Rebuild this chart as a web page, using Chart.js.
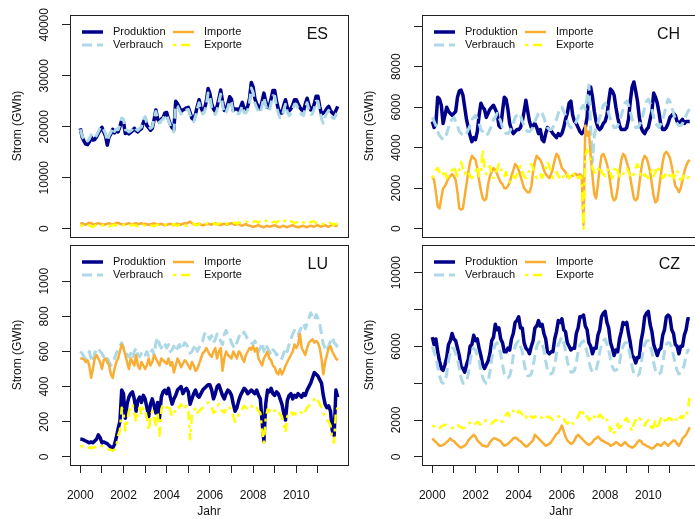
<!DOCTYPE html>
<html>
<head>
<meta charset="utf-8">
<script src="https://cdn.jsdelivr.net/npm/chart.js@4.4.1/dist/chart.umd.min.js"></script>
<style>
  body { margin: 0; background: #fff; }
  #wrap { position: relative; width: 695px; height: 519px; overflow: hidden; }
  #wrap canvas { position: absolute; }
</style>
</head>
<body>
<div id="wrap">
  <canvas id="es" width="350" height="240" style="left:0;top:0"></canvas>
  <canvas id="ch" width="350" height="240" style="left:352px;top:0"></canvas>
  <canvas id="lu" width="350" height="279" style="left:0;top:240px"></canvas>
  <canvas id="cz" width="350" height="279" style="left:352px;top:240px"></canvas>
</div>
<script>
// monthly values 2000-01 .. 2011-12, GWh
var years = [2000, 2001, 2002, 2003, 2004, 2005, 2006, 2007, 2008, 2009, 2010, 2011];
var months = [];
years.forEach(function (y) { for (var m = 0; m < 12; m++) months.push(y + m / 12); });
var yearTicks = years;

// Spanien
var esProd = [
  19700,18000,17200,16600,16500,17000,18000,17400,17500,18000,18700,19300, 19900,19000,18200,16400,18000,18600,19500,18800,19300,19000,20000,21300,
  21000,18700,18900,18600,18900,19200,19700,19200,19000,19400,19600,20800, 21700,20200,19800,19300,19700,21400,23300,21500,20900,21500,21800,22700,
  22800,21500,20500,19800,19500,25000,24500,23800,23000,23300,23500,23700, 23800,22800,21700,21400,22500,24000,25300,23800,23000,23500,25000,27500,
  26500,24500,23500,23000,24000,25500,27200,25000,23200,23500,24500,25900, 25400,23200,23500,23500,23200,23800,24800,23500,23400,24000,25500,28700,
  27800,25500,24500,23800,23500,25000,26600,25000,23800,24000,25500,27100, 27100,25000,23500,22700,22700,24200,25300,23800,23100,23500,24300,25300,
  25300,24500,23800,23300,23100,24500,25600,24300,23300,23400,24500,26000, 26000,24000,22500,22700,23000,23600,24000,23200,22700,22400,23200,24000
];
var esVerb = [
  19500,18200,17500,17000,17200,17600,18400,17800,17800,18300,19000,19800, 20000,19400,18700,17200,18300,18900,19800,19100,19500,19400,20400,21700,
  21500,19400,19300,19000,19200,19500,20000,19500,19300,19700,20000,21200, 22000,20600,20200,19700,20000,21500,23000,21300,20800,21200,21500,22300,
  22300,21200,20300,19500,19000,24200,24000,23200,22500,22700,23000,23300, 23400,22300,21300,21000,22000,23500,24700,23300,22500,22900,24300,26600,
  25700,23800,22900,22400,23300,24800,26400,24400,22600,22800,23800,25100, 24700,22600,22800,22700,22500,23100,24100,22800,22700,23300,24700,27600,
  26700,24600,23700,23000,22700,24200,25700,24200,23000,23200,24600,26100, 26000,24000,22600,21800,21800,23300,24400,22900,22200,22600,23400,24400,
  24400,23600,22900,22400,22200,23600,24700,23400,22400,22500,23600,25000, 25000,23100,21600,20700,22000,22700,23200,22300,21800,21600,22300,23200
];
var esImp = [
  1000,1100,900,800,1000,1200,1100,900,800,1000,1100,1000, 900,800,900,1000,1100,900,800,1000,1100,1200,1000,900,
  800,900,1000,1100,900,800,1000,1100,900,1000,1100,900, 1000,900,800,900,1000,1100,900,800,900,1000,800,700,
  800,900,1000,800,700,900,1000,900,800,1000,1100,1000, 1200,1400,1100,900,800,900,1000,800,700,800,900,1000,
  900,800,1000,1100,900,800,700,900,1000,800,900,1000, 1100,900,800,900,1000,700,600,800,900,700,600,500,
  400,500,600,700,500,400,300,500,600,400,500,600, 700,500,400,300,500,600,400,300,500,600,700,500,
  400,300,400,500,600,400,300,500,600,500,400,600, 700,500,400,600,700,500,400,600,800,700,600,700
];
var esExp = [
  700,600,500,600,700,600,500,400,600,700,600,500, 600,700,800,600,500,600,700,800,700,600,500,600,
  700,800,600,500,700,800,700,600,500,600,700,800, 600,700,800,700,600,500,700,800,700,600,700,800,
  700,600,700,800,900,700,600,800,900,800,700,600, 700,800,900,1000,800,700,900,1000,900,800,1000,1100,
  900,1000,1100,900,800,1000,1100,1200,1000,900,1100,1000, 900,1100,1200,1000,1300,1100,1000,1200,1400,1300,1100,1200,
  1300,1500,1400,1200,1600,1400,1300,1500,1700,1400,1200,1300, 1400,1200,1500,1300,1100,1400,1600,1300,1200,1500,1300,1100,
  1200,1500,1600,1300,1200,1400,1200,1100,1300,1500,1400,1100, 1000,1200,1100,900,1000,1200,1300,1100,900,800,1000,900
];

// Schweiz
var chProd = [
  5300,5000,5200,6500,6400,6100,5200,5600,6000,5800,5700,5600, 5700,5800,6500,6800,6850,6600,6000,5400,5000,4600,4300,4500,
  4400,4800,5600,6200,6000,5900,5500,5700,5900,6000,6100,5900, 5700,5100,5000,5800,6500,6400,5900,5200,4900,4700,4800,4900,
  4900,5000,5300,5800,6350,5800,5300,5000,5100,5200,5000,4700, 4900,4400,4300,4700,5000,4900,4850,4700,4600,4500,4700,4600,
  4700,5000,5400,5700,6200,6300,5600,5300,5200,5000,4800,4700, 4800,5000,5500,6900,7000,6500,5800,5300,5000,4900,5000,5200,
  5300,5600,6300,6900,6800,6600,6000,5500,5100,4900,4900,4900, 5000,5400,6300,7000,7250,6800,6300,5500,5000,4800,4700,4900,
  5000,5400,5800,6700,6500,6200,5700,5100,4900,4900,5000,5200, 5500,5600,5700,5600,5300,5200,5300,5400,5200,5300,5300,5300
];
var chVerb = [
  5500,5300,5100,4800,4600,4500,4400,4500,4700,5000,5300,5400, 5500,5300,5100,4800,4700,4600,4600,4700,4900,5100,5400,5500,
  5600,5400,5200,4900,4800,4700,4600,4700,4900,5100,5400,5500, 5700,5500,5300,5000,4800,4700,4700,4800,5000,5200,5500,5600,
  5700,5600,5300,5100,4900,4800,4800,4900,5000,5300,5500,5700, 5800,5700,5500,5200,5000,4900,4900,5000,5200,5400,5700,6000,
  6000,5800,5600,5300,5100,5000,5000,5100,5300,5500,5800,6000, 6100,5900,6500,7100,5000,3300,4600,5000,5200,5500,5800,6100,
  6200,6000,5700,5400,5200,5000,5000,5100,5300,5600,5900,6200, 6300,6100,5800,5400,5200,5000,5000,5100,5300,5600,6000,6300,
  6400,6200,5900,5500,5200,5100,5000,5200,5400,5700,6100,6400, 6300,6000,5700,5400,5200,5100,5100,5200,5400,5600,5800,5900
];
var chImp = [
  2600,2400,1800,1100,1000,1500,2000,2100,2300,2500,2600,2700, 2600,2400,1800,1000,950,1000,1600,2200,2800,3300,3600,3500,
  3400,3000,2400,1900,1500,1400,1500,2200,2600,2800,3000,2900, 2700,2500,2300,2200,2000,2000,2100,2300,2600,2900,3200,3100,
  2900,2600,2300,2000,1900,1800,1800,2100,2800,3300,3600,3500, 3400,3200,2900,2700,2600,2500,2700,3000,3400,3700,3600,3300,
  3000,2900,2800,2600,2500,2600,2600,2700,2700,2600,2700,2600, 200,5100,4600,4800,3600,2600,1700,1500,2200,3000,3600,3700,
  3500,3200,2800,2200,1600,1400,1500,2000,2800,3400,3700,3600, 3300,3000,2500,2000,1500,1400,1500,2200,2900,3400,3600,3500,
  3200,2800,2200,1600,1300,1400,2000,2700,3300,3700,3800,3700, 3500,3100,2600,2100,2000,1800,2000,2400,2800,3100,3300,3400
];
var chExp = [
  2500,2700,2900,3000,2800,2600,2700,2900,2500,2600,2800,2900, 3100,2800,2600,2900,3300,3000,2700,2900,2800,2600,2500,2700,
  2800,3100,2600,2800,3900,3000,2700,2900,3100,2600,2500,2800, 2900,3200,3000,2700,2600,2800,2500,2300,2400,2600,2500,2700,
  2900,3100,2800,2600,2500,2700,2900,3200,3000,2700,2500,2600, 2700,2500,2800,3000,3300,3100,2800,2500,2600,2800,2600,2500,
  2400,2600,2800,2700,2500,2600,2800,2600,2700,2500,2600,2500, 0,3600,3900,3600,3400,3000,2800,2700,2900,3100,2800,2700,
  2600,2800,3000,2700,2500,2900,3100,2800,2600,2500,2700,2900, 3000,2800,2600,2500,2700,3000,3200,2800,2600,2500,2700,2600,
  2500,2700,2900,2600,2800,3100,2900,2700,2500,2600,2800,2700, 2600,2800,2500,2700,2900,2600,2400,2500,2700,2600,2500,2700
];

// Luxemburg
var luProd = [
  100,100,95,90,85,80,85,80,90,100,125,110, 80,85,80,75,65,55,50,70,110,160,200,380,
  360,220,300,340,360,370,330,260,320,340,310,350, 330,280,230,300,330,290,250,310,220,340,370,380,
  360,390,340,300,330,350,380,390,400,360,380,390, 370,300,330,360,380,350,340,360,380,390,400,410,
  410,380,330,360,400,410,380,350,330,360,380,370, 350,300,260,280,320,350,370,390,380,360,370,380,
  370,360,380,350,330,200,90,300,380,370,390,360, 350,370,360,330,300,250,210,320,350,360,330,350,
  340,360,350,340,360,350,380,400,420,450,480,470, 460,440,420,350,300,280,290,260,150,120,380,340
];
var luVerb = [
  600,590,570,560,580,600,560,540,590,610,620,600, 590,570,550,560,540,520,530,560,590,610,630,650,
  620,600,580,570,590,560,600,620,580,570,590,600, 580,600,570,590,610,580,650,680,640,620,650,640,
  620,640,600,610,630,600,620,640,610,630,650,640, 620,590,600,620,640,600,620,650,660,700,710,690,
  670,690,650,670,700,680,660,640,700,720,690,680, 650,630,620,650,680,700,690,710,690,670,660,650,
  640,660,630,600,620,650,600,640,620,600,580,610, 600,580,590,570,560,590,620,600,640,670,700,720,
  700,690,720,740,760,730,760,790,820,800,780,810, 790,760,700,640,620,600,630,660,680,650,640,620
];
var luImp = [
  560,560,555,540,550,520,450,500,560,580,560,540, 500,550,560,540,520,470,450,500,540,560,600,640,
  620,580,540,500,560,540,520,580,520,500,540,520, 500,520,560,520,540,580,560,540,520,560,550,540,
  530,560,520,540,480,520,560,540,510,530,550,540, 520,500,540,520,490,500,530,560,590,600,620,600,
  580,570,600,620,560,600,620,490,560,600,580,570, 560,600,580,560,600,590,560,540,580,600,620,610,
  630,600,620,560,540,520,560,580,600,560,550,520, 510,480,470,500,470,490,520,540,560,580,600,640,
  620,640,700,620,600,580,620,650,660,670,650,660, 650,620,560,470,540,580,620,630,600,580,560,550
];
var luExp = [
  60,60,55,50,50,50,55,50,55,60,70,65, 60,55,50,45,40,40,35,40,60,120,150,280,
  250,150,200,260,280,300,250,200,260,280,240,280, 270,220,150,230,260,220,180,250,120,270,300,290,
  280,300,260,230,250,270,290,280,300,270,280,290, 260,100,240,260,280,250,260,270,280,290,300,310,
  300,280,250,260,290,300,280,260,250,270,290,280, 260,230,200,220,240,260,270,290,280,270,280,290,
  280,270,280,260,250,150,80,220,270,260,280,270, 260,270,260,240,230,180,140,230,250,260,240,250,
  240,250,260,250,270,260,280,290,300,310,330,340, 320,300,280,250,230,210,200,180,100,80,260,280
];

// Tschechien
var czProd = [
  6500,6100,6400,5700,5200,4800,4700,5000,5400,6100,6300,6700, 6400,6300,5900,5500,4900,4800,4600,5000,5300,6000,6100,6600,
  6300,6400,5900,5500,5000,4800,5000,5200,5600,6300,6500,7200, 6900,7000,6400,6200,5700,5700,5900,5800,6400,6700,7300,7400,
  7600,7000,7000,6200,5900,5800,5600,6000,6300,7000,7100,7400, 7100,7200,6700,6400,5700,5600,5700,5700,6400,6800,7400,7300,
  7500,6900,6800,6200,6000,5800,5900,5900,6700,7000,7600,7600, 7700,7100,6900,6200,6000,5600,5900,5900,6600,6900,7600,7800,
  7900,7300,7000,6200,5900,5500,5800,5700,6400,6800,7300,7200, 7300,6700,6200,5500,5400,5100,5400,5400,6300,6800,7600,7800,
  7900,7200,6800,6100,5800,5500,5800,5900,6600,6900,7600,7700, 7600,6900,6700,6100,6000,5600,6000,6000,6600,6900,7500,7500
];
var czVerb = [
  6000,5700,5400,4900,4400,4100,4000,4100,4500,5200,5700,5900, 5900,5600,5300,4800,4300,4000,4000,4100,4500,5200,5700,5900,
  5800,5500,5200,4700,4300,4100,4000,4100,4600,5300,5800,6100, 6200,5900,5600,5000,4500,4300,4300,4400,4800,5500,6000,6200,
  6300,6000,5700,5100,4600,4400,4400,4500,4900,5500,6000,6200, 6300,6100,5800,5200,4700,4500,4500,4600,5000,5600,6100,6300,
  6500,6200,5800,5200,4800,4600,4600,4700,5100,5700,6100,6200, 6300,6000,5700,5200,4800,4600,4600,4700,5100,5700,6100,6300,
  6400,6100,5800,5300,4900,4700,4700,4800,5100,5700,6000,6200, 6200,5900,5500,4900,4500,4400,4400,4500,5000,5700,6100,6300,
  6300,6100,5700,5100,4700,4500,4500,4600,5100,5700,6100,6200, 6200,5900,5500,5000,4700,4500,4600,4700,5000,5500,5800,5800
];
var czImp = [
  1000,900,800,700,600,600,650,700,800,900,1000,900, 850,750,650,550,500,550,600,700,900,1000,1100,1200,
  1100,900,800,700,600,600,550,600,800,900,1000,1000, 950,900,850,700,600,650,700,800,900,1000,1050,1000,
  900,850,750,650,550,600,700,800,900,1200,1100,1000, 900,800,700,600,650,700,800,950,1100,1250,1300,1500,
  1700,1400,1100,900,800,700,750,900,1100,1200,1100,1000, 900,800,700,650,700,800,950,1000,1100,1000,900,850,
  800,750,700,600,650,700,800,750,650,600,700,800, 700,600,550,500,550,650,800,900,850,700,650,600,
  550,500,450,500,600,700,650,600,700,800,700,600, 700,800,900,850,700,600,750,1000,1100,1200,1400,1600
];
var czExp = [
  1700,1650,1600,1500,1550,1650,1700,1750,1700,1650,1600,1550, 1600,1700,1750,1650,1600,1550,1600,1750,1800,1850,1750,1700,
  1800,1900,1850,1700,1800,1900,2000,1950,1850,1800,1900,2000, 2000,2100,2000,1900,2100,2300,2400,2200,2300,2500,2400,2300,
  2500,2400,2300,2100,2200,2000,2100,2200,2100,2200,2150,2100, 2200,2100,2000,2100,2200,2150,2100,2000,2050,2100,2200,2150,
  2200,2100,1900,1800,1900,2000,1800,1900,2000,2200,2400,2600, 2300,2100,2200,2000,2100,2300,2200,2000,2100,2300,2200,2100,
  2200,2000,1800,1400,1600,1300,1500,1800,1400,1700,1900,2000, 2100,1900,1600,1400,1800,2000,1900,2100,2000,1800,1700,1900,
  2000,1800,1400,1700,2000,1500,1800,2100,1900,2000,1800,2100, 2100,2000,2200,2100,1900,2000,2200,2100,2300,2200,2600,3300
];

var NAMES = ['Produktion', 'Verbrauch', 'Importe', 'Exporte'];
var COLORS = ['#00008B', '#ADD8E6', '#F9AD33', '#FFFF00'];
var WIDTHS = [3.5, 3, 2.5, 2.5];
var DASHES = [[], [10, 5], [], [3, 5, 9, 5]];
var FONT = '"Liberation Sans", Arial, Helvetica, sans-serif';

Chart.defaults.font.family = FONT;
Chart.defaults.color = '#111';

// R-style axis range: 4% on each side
var xSpan = months[months.length - 1] - months[0];
var X_MIN = months[0] - 0.04 * xSpan;
var X_MAX = months[months.length - 1] + 0.04 * xSpan;

var panelPlugin = {
  id: 'panel',
  afterDraw: function (chart, args, opts) {
    var ctx = chart.ctx, a = chart.chartArea, y = chart.scales.y;
    ctx.save();
    // box
    ctx.strokeStyle = '#222';
    ctx.lineWidth = 1;
    ctx.strokeRect(Math.round(a.left) + 0.5, Math.round(a.top) + 0.5, a.right - a.left, a.bottom - a.top);
    // y tick labels, vertical like R
    ctx.fillStyle = '#111';
    ctx.font = '12px ' + FONT;
    ctx.textAlign = 'center';
    ctx.textBaseline = 'middle';
    opts.labels.forEach(function (v) {
      ctx.save();
      ctx.translate(a.left - 25, y.getPixelForValue(v));
      ctx.rotate(-Math.PI / 2);
      ctx.fillText(String(v), 0, 0);
      ctx.restore();
    });
    ctx.save();
    ctx.translate(18, (a.top + a.bottom) / 2);
    ctx.rotate(-Math.PI / 2);
    ctx.fillText('Strom (GWh)', 0, 0);
    ctx.restore();
    // legend
    ctx.font = '11px ' + FONT;
    ctx.textAlign = 'left';
    NAMES.forEach(function (n, k) {
      var x0 = a.left + 12 + Math.floor(k / 2) * 91;
      var yy = a.top + 17 + (k % 2) * 13;
      ctx.beginPath();
      ctx.setLineDash(DASHES[k]);
      ctx.strokeStyle = COLORS[k];
      ctx.lineWidth = WIDTHS[k];
      ctx.moveTo(x0, yy);
      ctx.lineTo(x0 + 21, yy);
      ctx.stroke();
      ctx.setLineDash([]);
      ctx.fillText(n, x0 + 31, yy);
    });
    // country
    ctx.font = '16px ' + FONT;
    ctx.textAlign = 'right';
    ctx.fillText(opts.name, a.right - 20, a.top + 20);
    ctx.restore();
  }
};

function makePanel(id, name, series, ylimTop, ticks, labels, bottom) {
  new Chart(document.getElementById(id), {
    type: 'line',
    data: {
      labels: months,
      datasets: series.map(function (d, k) {
        return {
          label: NAMES[k],
          data: d,
          borderColor: COLORS[k],
          borderWidth: WIDTHS[k],
          borderDash: DASHES[k],
          borderJoinStyle: 'round',
          pointRadius: 0,
          tension: 0,
          fill: false,
          order: 4 - k
        };
      })
    },
    options: {
      responsive: false,
      animation: false,
      devicePixelRatio: 1,
      layout: { padding: bottom ? { top: 5, right: 2, bottom: 0, left: 0 } : { top: 15, right: 2, bottom: 3, left: 0 } },
      plugins: {
        legend: { display: false },
        tooltip: { enabled: false },
        panel: { name: name, labels: labels }
      },
      scales: {
        x: {
          type: 'linear',
          min: X_MIN,
          max: X_MAX,
          display: bottom,
          afterBuildTicks: function (s) { s.ticks = yearTicks.map(function (v) { return { value: v }; }); },
          afterFit: function (s) { s.height = bottom ? 54 : 0; },
          grid: { drawOnChartArea: false, drawTicks: true, tickLength: 8, color: '#222' },
          border: { display: false },
          ticks: {
            autoSkip: false, maxRotation: 0, padding: 15, font: { size: 12 },
            callback: function (v) { return v % 2 === 0 ? String(v) : ''; }
          },
          title: { display: true, text: 'Jahr', padding: 0, font: { size: 12 } }
        },
        y: {
          min: -0.04 * ylimTop,
          max: 1.04 * ylimTop,
          afterBuildTicks: function (s) { s.ticks = ticks.map(function (v) { return { value: v }; }); },
          afterFit: function (s) { s.width = 70; },
          grid: { drawOnChartArea: false, drawTicks: true, tickLength: 8, color: '#222' },
          border: { display: false },
          ticks: { display: false }
        }
      }
    },
    plugins: [panelPlugin]
  });
}

makePanel('es', 'ES', [esProd, esVerb, esImp, esExp], 40300,
  [0, 10000, 20000, 30000, 40000], [0, 10000, 20000, 30000, 40000], false);
makePanel('ch', 'CH', [chProd, chVerb, chImp, chExp], 10150,
  [0, 2000, 4000, 6000, 8000, 10000], [0, 2000, 4000, 6000, 8000], false);
makePanel('lu', 'LU', [luProd, luVerb, luImp, luExp], 1160,
  [0, 200, 400, 600, 800, 1000], [0, 200, 400, 600, 800, 1000], true);
makePanel('cz', 'CZ', [czProd, czVerb, czImp, czExp], 11060,
  [0, 2000, 4000, 6000, 8000, 10000], [0, 2000, 6000, 10000], true);
</script>
</body>
</html>
